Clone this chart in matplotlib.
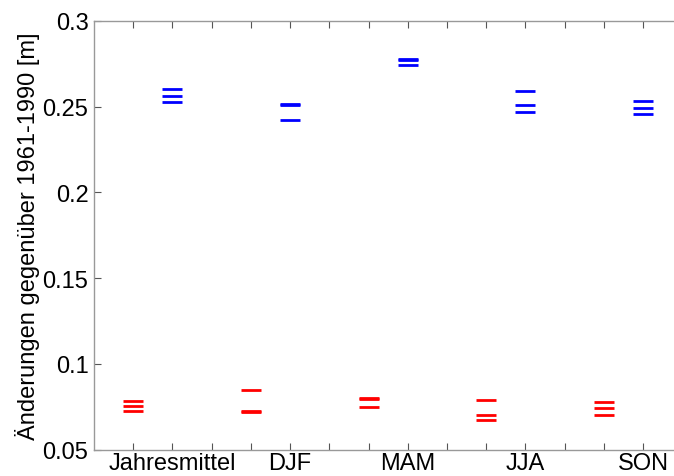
import matplotlib
matplotlib.use("Agg")
import matplotlib.pyplot as plt

plt.rcParams['font.family'] = ['Liberation Sans', 'DejaVu Sans']

# categories and their tick positions
categories = ['Jahresmittel', 'DJF', 'MAM', 'JJA', 'SON']
red_x = [1, 4, 7, 10, 13]
blue_x = [2, 5, 8, 11, 14]

# changes vs 1961-1990 [m], three values per category
red_vals = [
    [0.0781, 0.0755, 0.0723],
    [0.0846, 0.0726, 0.0719],
    [0.0798, 0.0794, 0.0749],
    [0.0791, 0.0704, 0.0675],
    [0.0778, 0.0743, 0.0700],
]
blue_vals = [
    [0.2604, 0.2563, 0.2530],
    [0.2516, 0.2508, 0.2425],
    [0.2778, 0.2772, 0.2742],
    [0.2594, 0.2512, 0.2468],
    [0.2536, 0.2490, 0.2455],
]

y_ticks = [0.05, 0.1, 0.15, 0.2, 0.25, 0.3]
y_ticklabels = ['0.05', '0.1', '0.15', '0.2', '0.25', '0.3']

fig = plt.figure(figsize=(6.74, 4.77), dpi=100)
# axes run past the right edge of the picture, as in the original crop
ax = fig.add_axes([0.1395, 0.0555, 0.931, 0.8984])

for x, vals in zip(red_x, red_vals):
    ax.plot([x] * len(vals), vals, linestyle='none', marker='_',
            markersize=15, markeredgewidth=2.0, color='#ff0000')
for x, vals in zip(blue_x, blue_vals):
    ax.plot([x] * len(vals), vals, linestyle='none', marker='_',
            markersize=15, markeredgewidth=2.0, color='#0000ff')

ax.set_xlim(0, 16)
ax.set_ylim(0.05, 0.3)

xt = list(range(1, 16))
xl = [''] * len(xt)
for x, name in zip(blue_x, categories):
    xl[xt.index(x)] = name
ax.set_xticks(xt)
ax.set_xticklabels(xl, fontsize=17)
ax.set_yticks(y_ticks)
ax.set_yticklabels(y_ticklabels, fontsize=17)
ax.set_ylabel('Änderungen gegenüber 1961-1990 [m]', fontsize=17, labelpad=2)

ax.tick_params(direction='in', length=5, width=0.8, color='#555555',
               top=True, right=True, pad=4)
ax.tick_params(axis='x', pad=1.5)
for s in ax.spines.values():
    s.set_color('#999999')
    s.set_linewidth(1.0)

fig.savefig('out.png', dpi=100)
